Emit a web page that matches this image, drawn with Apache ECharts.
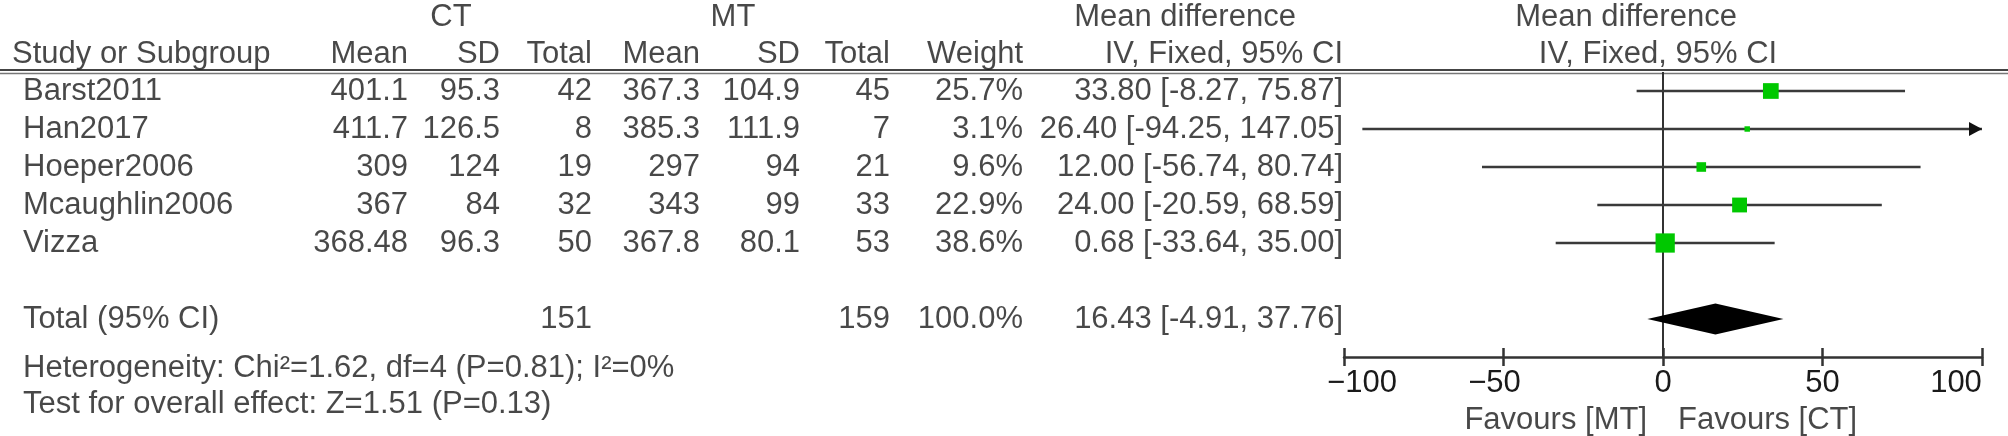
<!DOCTYPE html>
<html>
<head>
<meta charset="utf-8">
<script src="https://cdn.jsdelivr.net/npm/echarts@6/dist/echarts.min.js"></script>
<style>
  html, body { margin: 0; padding: 0; background: #fff; }
  #chart { width: 2008px; height: 436px; }
</style>
</head>
<body>
<div id="chart"></div>
<script>
// ---------------- DATA ----------------
const studies   = ['Barst2011', 'Han2017', 'Hoeper2006', 'Mcaughlin2006', 'Vizza'];
const ctMean    = [401.1, 411.7, 309, 367, 368.48];
const ctSD      = [95.3, 126.5, 124, 84, 96.3];
const ctTotal   = [42, 8, 19, 32, 50];
const mtMean    = [367.3, 385.3, 297, 343, 367.8];
const mtSD      = [104.9, 111.9, 94, 99, 80.1];
const mtTotal   = [45, 7, 21, 33, 53];
const weights   = [25.7, 3.1, 9.6, 22.9, 38.6];
const meanDiff  = [33.80, 26.40, 12.00, 24.00, 0.68];
const ciLow     = [-8.27, -94.25, -56.74, -20.59, -33.64];
const ciHigh    = [75.87, 147.05, 80.74, 68.59, 35.00];
const totalCT = 151, totalMT = 159, totalWeight = 100.0;
const totalMD = 16.43, totalLow = -4.91, totalHigh = 37.76;
const heterogeneityText = 'Heterogeneity: Chi\u00B2=1.62, df=4 (P=0.81); I\u00B2=0%';
const overallText = 'Test for overall effect: Z=1.51 (P=0.13)';
const axisMin = -100, axisMax = 100, axisStep = 50;
const favourLeft = 'Favours [MT]', favourRight = 'Favours [CT]';

// ---------------- LAYOUT ----------------
const W = 2008;
const ROW0 = 91, ROWH = 38;            // pixel y of first study row, row spacing
const rowOf = y => (y - ROW0) / ROWH;  // pixel y -> row unit
const FONT = 'Liberation Sans, Arial, Helvetica, sans-serif';
const FS = 31;
const TXT = '#1a1a1a';
const LINE = '#333';
const GREEN = '#00c800';

const col = {
  study: 23, studyHead: 12,
  ctMean: 408, ctSD: 500, ctTot: 592,
  mtMean: 700, mtSD: 800, mtTot: 890,
  weight: 1023, md: 1343,
  ctHead: 451, mtHead: 733, mdHead: 1185, plotHead: 1626, plotSub: 1658
};
const R = {
  group: rowOf(17), head: rowOf(54), total: 6,
  het: rowOf(368), test: rowOf(404), favours: rowOf(420)
};

const f2 = v => v.toFixed(2);
const ciText = (m, l, h) => f2(m) + ' [' + f2(l) + ', ' + f2(h) + ']';

// table cells
const cells = [];
const cell = (x, r, text, align) => cells.push({ name: text, value: [x, r], label: { align: align } });

cell(col.ctHead, R.group, 'CT', 'center');
cell(col.mtHead, R.group, 'MT', 'center');
cell(col.mdHead, R.group, 'Mean difference', 'center');
cell(col.plotHead, R.group, 'Mean difference', 'center');

cell(col.studyHead, R.head, 'Study or Subgroup', 'left');
cell(col.ctMean, R.head, 'Mean', 'right');
cell(col.ctSD, R.head, 'SD', 'right');
cell(col.ctTot, R.head, 'Total', 'right');
cell(col.mtMean, R.head, 'Mean', 'right');
cell(col.mtSD, R.head, 'SD', 'right');
cell(col.mtTot, R.head, 'Total', 'right');
cell(col.weight, R.head, 'Weight', 'right');
cell(col.md, R.head, 'IV, Fixed, 95% CI', 'right');
cell(col.plotSub, R.head, 'IV, Fixed, 95% CI', 'center');

studies.forEach((s, i) => {
  cell(col.study, i, s, 'left');
  cell(col.ctMean, i, String(ctMean[i]), 'right');
  cell(col.ctSD, i, String(ctSD[i]), 'right');
  cell(col.ctTot, i, String(ctTotal[i]), 'right');
  cell(col.mtMean, i, String(mtMean[i]), 'right');
  cell(col.mtSD, i, String(mtSD[i]), 'right');
  cell(col.mtTot, i, String(mtTotal[i]), 'right');
  cell(col.weight, i, weights[i].toFixed(1) + '%', 'right');
  cell(col.md, i, ciText(meanDiff[i], ciLow[i], ciHigh[i]), 'right');
});

cell(col.study, R.total, 'Total (95% CI)', 'left');
cell(col.ctTot, R.total, String(totalCT), 'right');
cell(col.mtTot, R.total, String(totalMT), 'right');
cell(col.weight, R.total, totalWeight.toFixed(1) + '%', 'right');
cell(col.md, R.total, ciText(totalMD, totalLow, totalHigh), 'right');
cell(col.study, R.het, heterogeneityText, 'left');
cell(col.study, R.test, overallText, 'left');

const studyData = studies.map((s, i) => [meanDiff[i], ciLow[i], ciHigh[i], i, weights[i]]);

const chart = echarts.init(document.getElementById('chart'), null, { renderer: 'canvas' });
const gridTop = ROW0 - 0.5 * ROWH;
const gridH = 7.5 * ROWH;
const plotLeft = 1344, plotRight = 1982;

const labelBase = {
  show: true, position: [0, 0], verticalAlign: 'middle',
  fontFamily: FONT, fontSize: FS, color: TXT,
  formatter: p => p.name
};

// tick label styles (end labels pulled inward, negative labels centred on digits)
const tickFont = { fontFamily: FONT, fontSize: FS, color: TXT };
const tickRich = {
  first: Object.assign({ padding: [0, 0, 0, 36] }, tickFont),
  last:  Object.assign({ padding: [0, 52, 0, 0] }, tickFont),
  neg:   Object.assign({ padding: [0, 18, 0, 0] }, tickFont),
  pos:   Object.assign({}, tickFont)
};
const tickFormatter = v => {
  const t = String(v).replace('-', '\u2212');
  const k = v === axisMin ? 'first' : v === axisMax ? 'last' : v < 0 ? 'neg' : 'pos';
  return '{' + k + '|' + t + '}';
};

chart.setOption({
  animation: false,
  backgroundColor: '#fff',
  grid: [
    { left: plotLeft, width: plotRight - plotLeft, top: gridTop, height: gridH },
    { left: 0, width: W, top: gridTop, height: gridH }
  ],
  xAxis: [
    {
      type: 'value', gridIndex: 0, min: axisMin, max: axisMax, interval: axisStep,
      position: 'bottom',
      axisLine: { show: true, onZero: false, lineStyle: { color: LINE, width: 2.5 } },
      axisTick: { show: true, length: 9, lineStyle: { color: LINE, width: 2.5 } },
      axisLabel: {
        show: true, margin: 11, fontFamily: FONT, fontSize: FS, color: TXT,
        formatter: tickFormatter, rich: tickRich
      },
      splitLine: { show: false }
    },
    {
      type: 'value', gridIndex: 0, min: axisMin, max: axisMax, interval: axisStep,
      position: 'bottom',
      axisLine: { show: false, onZero: false },
      axisTick: { show: true, inside: true, length: 9, lineStyle: { color: LINE, width: 2.5 } },
      axisLabel: { show: false },
      splitLine: { show: false }
    },
    {
      type: 'value', gridIndex: 1, min: 0, max: W, show: false
    }
  ],
  yAxis: [
    { type: 'value', gridIndex: 0, inverse: true, min: -0.5, max: 7, show: false },
    { type: 'value', gridIndex: 1, inverse: true, min: -0.5, max: 7, show: false }
  ],
  graphic: [
    { type: 'line', shape: { x1: 0, y1: 70, x2: W, y2: 70 }, style: { stroke: '#444', lineWidth: 2 } },
    { type: 'line', shape: { x1: 0, y1: 73.5, x2: W, y2: 73.5 }, style: { stroke: '#777', lineWidth: 1.5 } }
  ],
  series: [
    // line of no effect
    {
      type: 'custom', xAxisIndex: 0, yAxisIndex: 0, clip: false, silent: true,
      data: [[0, -0.5, 7]],
      renderItem: (params, api) => {
        const a = api.coord([api.value(0), api.value(1)]);
        const b = api.coord([api.value(0), api.value(2)]);
        return { type: 'line', shape: { x1: a[0], y1: a[1], x2: b[0], y2: b[1] },
                 style: { stroke: LINE, lineWidth: 2 } };
      }
    },
    // study CIs and squares
    {
      type: 'custom', xAxisIndex: 0, yAxisIndex: 0, clip: false, silent: true,
      data: studyData,
      renderItem: (params, api) => {
        const m = api.value(0), lo = api.value(1), hi = api.value(2), r = api.value(3), w = api.value(4);
        const pl = api.coord([Math.max(lo, axisMin), r]);
        const ph = api.coord([Math.min(hi, axisMax), r]);
        const pm = api.coord([m, r]);
        const children = [{
          type: 'line', shape: { x1: pl[0], y1: pl[1], x2: ph[0], y2: ph[1] },
          style: { stroke: '#3a3a3a', lineWidth: 2.5 }
        }];
        if (hi > axisMax) {
          children.push({ type: 'polygon',
            shape: { points: [[ph[0], ph[1]], [ph[0] - 13, ph[1] - 7], [ph[0] - 13, ph[1] + 7]] },
            style: { fill: '#111' } });
        }
        if (lo < axisMin) {
          children.push({ type: 'polygon',
            shape: { points: [[pl[0], pl[1]], [pl[0] + 13, pl[1] - 7], [pl[0] + 13, pl[1] + 7]] },
            style: { fill: '#111' } });
        }
        const s = 3.1 * Math.sqrt(w);
        children.push({ type: 'rect', shape: { x: pm[0] - s / 2, y: pm[1] - s / 2, width: s, height: s },
                        style: { fill: GREEN } });
        return { type: 'group', children: children };
      }
    },
    // pooled diamond
    {
      type: 'custom', xAxisIndex: 0, yAxisIndex: 0, clip: false, silent: true,
      data: [[totalMD, totalLow, totalHigh, R.total]],
      renderItem: (params, api) => {
        const r = api.value(3);
        const pm = api.coord([api.value(0), r]);
        const pl = api.coord([api.value(1), r]);
        const ph = api.coord([api.value(2), r]);
        const h = 15.5;
        return { type: 'polygon',
          shape: { points: [[pl[0], pl[1]], [pm[0], pm[1] - h], [ph[0], ph[1]], [pm[0], pm[1] + h]] },
          style: { fill: '#000' } };
      }
    },
    // favours captions
    {
      type: 'scatter', xAxisIndex: 0, yAxisIndex: 0, clip: false, silent: true, symbolSize: 0,
      label: labelBase,
      data: [
        { name: favourLeft, value: [0, R.favours], label: { align: 'right', offset: [-16, 0] } },
        { name: favourRight, value: [0, R.favours], label: { align: 'left', offset: [15, 0] } }
      ]
    },
    // table text
    {
      type: 'scatter', xAxisIndex: 2, yAxisIndex: 1, clip: false, silent: true, symbolSize: 0,
      label: labelBase,
      data: cells
    }
  ]
});
</script>
</body>
</html>
